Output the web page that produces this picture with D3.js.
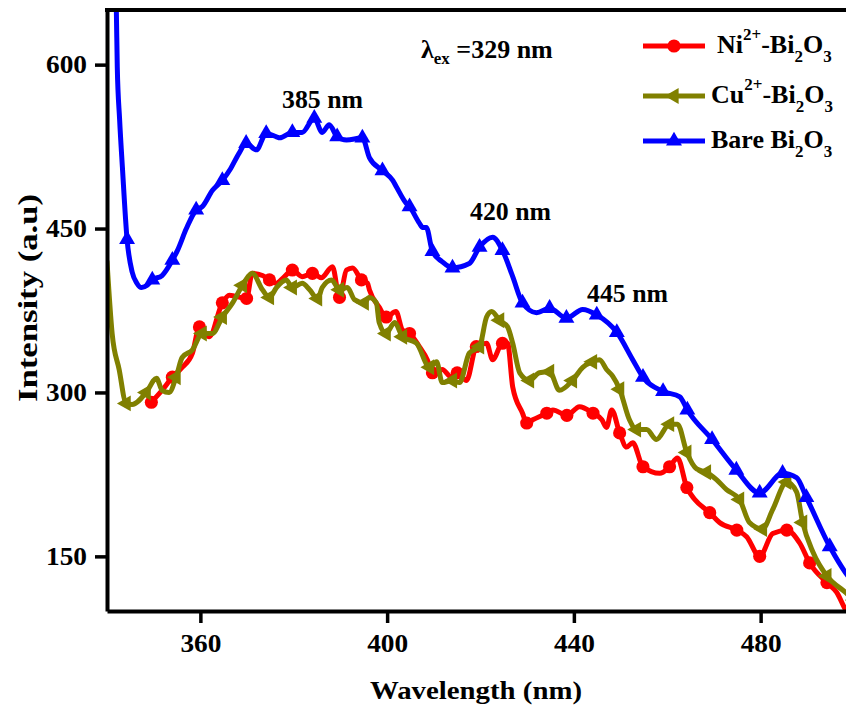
<!DOCTYPE html>
<html>
<head>
<meta charset="utf-8">
<script src="https://cdn.jsdelivr.net/npm/d3@7/dist/d3.min.js"></script>
<style>
  html, body { margin: 0; padding: 0; background: #fff; }
  svg { display: block; }
  text { font-family: "Liberation Serif", "Times New Roman", Times, serif; font-weight: bold; fill: #000; }
</style>
</head>
<body>
<svg id="chart" width="846" height="707"></svg>
<script>
// ---------------- DATA ----------------
const xTicks = [360, 400, 440, 480];
const yTicks = [150, 300, 450, 600];

// Ni2+-Bi2O3 (red, circles)
const niX = [349.5, 351.8, 354.0, 355.9, 358.3, 359.8, 361.9, 364.7, 366.2, 369.9, 371.1, 373.3, 374.8, 376.3, 378.0, 379.7, 381.8, 384.0, 385.9, 388.3, 389.8, 391.3, 392.6, 394.5, 395.8, 396.2, 398.3, 399.8, 401.9, 403.3, 404.8, 406.9, 408.6, 409.7, 411.8, 413.8, 415.0, 417.0, 419.1, 421.3, 422.6, 424.7, 425.8, 426.9, 429.0, 429.9, 431.2, 434.2, 435.5, 438.5, 441.2, 444.1, 446.0, 447.0, 448.1, 449.8, 451.3, 452.6, 454.8, 458.4, 460.5, 462.2, 464.2, 465.9, 469.1, 471.2, 474.9, 477.0, 479.8, 482.6, 485.6, 488.4, 490.5, 494.2, 496.3, 498.2, 500.0];
const niY = [291, 302, 314, 322, 336, 360, 351, 382, 389, 386, 409, 407, 403, 400, 406, 412, 406, 409, 405, 415, 387, 412, 414, 403, 400, 394, 378, 369, 374, 357, 354, 342, 330, 318, 321, 314, 318, 311, 342, 345, 330, 345, 345, 305, 281, 272, 275, 281, 284, 279, 287, 281, 275, 268, 284, 263, 250, 254, 232, 226, 232, 240, 213, 202, 190, 181, 174, 168, 150, 171, 174, 162, 144, 126, 117, 101, 90];

// Cu2+-Bi2O3 (olive, left triangles)
const cuX = [340.0, 341.1, 342.6, 344.1, 345.4, 348.4, 350.6, 351.8, 353.3, 354.8, 356.1, 358.3, 360.4, 362.6, 364.7, 366.9, 369.0, 371.1, 373.3, 374.8, 376.3, 378.4, 379.7, 381.8, 383.4, 385.1, 386.1, 388.1, 389.8, 391.5, 393.0, 395.1, 396.2, 397.7, 398.3, 399.8, 401.6, 403.3, 406.3, 409.1, 410.6, 411.8, 414.0, 415.5, 417.6, 419.8, 421.3, 422.4, 424.1, 425.8, 426.9, 428.4, 430.5, 432.6, 434.8, 436.9, 439.7, 441.9, 444.0, 445.5, 447.0, 448.3, 449.8, 451.9, 453.4, 455.6, 457.7, 460.5, 462.2, 464.2, 466.3, 468.4, 470.6, 472.7, 475.5, 477.6, 480.4, 482.6, 485.6, 487.7, 489.0, 491.2, 494.2, 498.2, 500.0];
const cuY = [420, 354, 321, 290, 289, 300, 313, 302, 300, 314, 332, 339, 354, 354, 369, 382, 398, 409, 394, 387, 396, 403, 396, 400, 394, 386, 396, 403, 394, 396, 385, 382, 387, 382, 364, 354, 364, 351, 345, 323, 328, 309, 311, 309, 336, 342, 369, 374, 366, 360, 345, 318, 311, 318, 319, 302, 311, 323, 328, 330, 321, 315, 303, 275, 266, 266, 257, 271, 271, 245, 230, 227, 220, 211, 202, 181, 175, 193, 218, 209, 181, 154, 132, 117, 110];

// Bare Bi2O3 (blue, up triangles)
const bareX = [341.8, 342.0, 342.2, 342.7, 343.3, 344.3, 345.4, 346.4, 347.4, 348.6, 349.7, 351.8, 354.0, 355.1, 357.0, 359.1, 360.4, 362.6, 364.7, 366.5, 368.3, 369.8, 372.0, 374.1, 376.3, 377.0, 379.7, 381.8, 384.4, 386.1, 387.6, 389.3, 391.3, 394.7, 396.2, 399.0, 401.2, 402.0, 404.1, 404.8, 406.9, 407.6, 408.4, 409.7, 411.7, 414.0, 417.6, 419.8, 422.6, 424.7, 426.9, 429.0, 432.0, 434.8, 438.4, 441.9, 444.9, 449.2, 452.6, 454.8, 459.1, 462.7, 464.3, 469.6, 474.8, 479.8, 484.7, 487.7, 489.8, 494.8, 498.2, 500.0];
const bareY = [680, 650, 598, 550, 506, 440, 410, 400, 396, 398, 403, 407, 421, 430, 450, 467, 470, 485, 494, 505, 519, 528, 522, 537, 534, 533, 538, 538, 551, 538, 545, 534, 531, 533, 515, 503, 494, 488, 473, 470, 455, 451, 451, 429, 420, 414, 418, 433, 442, 430, 406, 382, 373, 377, 368, 376, 371, 355, 330, 314, 301, 296, 284, 257, 229, 208, 226, 222, 204, 159, 135, 125];

const seriesNames = ["Ni2+-Bi2O3", "Cu2+-Bi2O3", "Bare Bi2O3"];
const seriesColors = ["#ff0000", "#808000", "#0000ff"];
const peakLabels = ["385 nm", "420 nm", "445 nm"];
const markerStart = 344.5, markerStep = 5;

// ---------------- CHART ----------------
const svg = d3.select("#chart");
const pLeft = 107, pRight = 854, pTop = 10, pBottom = 611;
const x = d3.scaleLinear().domain([340, 500]).range([pLeft, pRight]);
const y = d3.scaleLinear().domain([100, 650]).range([pBottom, pTop]);

svg.append("defs").append("clipPath").attr("id", "plotclip")
  .append("rect").attr("x", pLeft).attr("y", pTop).attr("width", pRight - pLeft).attr("height", pBottom - pTop);

const series = [
  { xs: niX, ys: niY, color: seriesColors[0], sym: "circle" },
  { xs: cuX, ys: cuY, color: seriesColors[1], sym: "left" },
  { xs: bareX, ys: bareY, color: seriesColors[2], sym: "up" }
];

const line = d3.line().x(d => x(d[0])).y(d => y(d[1])).curve(d3.curveMonotoneX);

function symbolPath(kind) {
  if (kind === "circle") return d3.symbol(d3.symbolCircle, 135)();
  return d3.symbol(d3.symbolTriangle, 110)();
}
function symbolTransform(kind, px, py) {
  if (kind === "left") return `translate(${px},${py}) rotate(-90)`;
  return `translate(${px},${py})`;
}

const plot = svg.append("g").attr("clip-path", "url(#plotclip)");
series.forEach(s => {
  const pts = s.xs.map((v, i) => [v, s.ys[i]]);
  plot.append("path").datum(pts)
    .attr("d", line).attr("fill", "none").attr("stroke", s.color)
    .attr("stroke-width", 5).attr("stroke-linejoin", "round").attr("stroke-linecap", "round");
  // markers: pick nearest data point to each marker wavelength
  const picks = [];
  for (let w = markerStart; w <= 500; w += markerStep) {
    if (w < s.xs[0] - 0.6) continue;
    let bi = 0, bd = Infinity;
    s.xs.forEach((v, i) => { const d = Math.abs(v - w); if (d < bd) { bd = d; bi = i; } });
    if (bd < 2 && !picks.includes(bi)) picks.push(bi);
  }
  plot.selectAll(null).data(picks).enter().append("path")
    .attr("d", symbolPath(s.sym))
    .attr("transform", i => symbolTransform(s.sym, x(s.xs[i]), y(s.ys[i])))
    .attr("fill", s.color);
});

// Axes
const xAxis = d3.axisBottom(x).tickValues(xTicks).tickSize(12).tickSizeOuter(0).tickPadding(11);
const yAxis = d3.axisLeft(y).tickValues(yTicks).tickSize(12).tickSizeOuter(0).tickPadding(8);
const gx = svg.append("g").attr("transform", `translate(0,${pBottom})`).call(xAxis);
const gy = svg.append("g").attr("transform", `translate(${pLeft},0)`).call(yAxis);
[gx, gy].forEach(g => {
  g.attr("font-family", null);
  g.select(".domain").attr("stroke", "#000").attr("stroke-width", 4);
  g.selectAll(".tick line").attr("stroke", "#000").attr("stroke-width", 3.5);
  g.selectAll(".tick text").attr("font-size", 26).attr("fill", "#000")
    .attr("textLength", 41).attr("lengthAdjust", "spacingAndGlyphs");
});
// top frame
svg.append("line").attr("x1", pLeft - 2).attr("x2", 846).attr("y1", pTop).attr("y2", pTop)
  .attr("stroke", "#000").attr("stroke-width", 4);

// Axis titles
svg.append("text").attr("x", 476).attr("y", 699).attr("text-anchor", "middle")
  .attr("font-size", 26).attr("textLength", 212).attr("lengthAdjust", "spacingAndGlyphs").text("Wavelength (nm)");
svg.append("text").attr("transform", "translate(37,298) rotate(-90)").attr("text-anchor", "middle")
  .attr("font-size", 27).attr("textLength", 208).attr("lengthAdjust", "spacingAndGlyphs").text("Intensity (a.u)");

// Peak annotations
const peakPos = [[282, 108], [470, 220], [587, 302]];
peakLabels.forEach((t, i) => {
  svg.append("text").attr("x", peakPos[i][0]).attr("y", peakPos[i][1])
    .attr("font-size", 25).attr("textLength", 81).attr("lengthAdjust", "spacingAndGlyphs").text(t);
});

// Excitation label
const ex = svg.append("text").attr("x", 421).attr("y", 58).attr("font-size", 26);
ex.append("tspan").text("λ");
ex.append("tspan").attr("dy", 6).attr("font-size", 17).text("ex");
ex.append("tspan").attr("dy", -6).text(" =329 nm");

// Legend
function chemParts(name) {
  if (name.startsWith("Ni")) return [["Ni", 0], ["2+", 1], ["-Bi", 0], ["2", -1], ["O", 0], ["3", -1]];
  if (name.startsWith("Cu")) return [["Cu", 0], ["2+", 1], ["-Bi", 0], ["2", -1], ["O", 0], ["3", -1]];
  return [["Bare Bi", 0], ["2", -1], ["O", 0], ["3", -1]];
}
const legY = [46, 96, 141];
const legTextX = [717, 711, 711];
const legTextY = [53, 103, 148];
series.forEach((s, i) => {
  const g = svg.append("g");
  g.append("line").attr("x1", 643).attr("x2", 705).attr("y1", legY[i]).attr("y2", legY[i])
    .attr("stroke", s.color).attr("stroke-width", 5);
  g.append("path").attr("d", symbolPath(s.sym)).attr("transform", symbolTransform(s.sym, 674, legY[i])).attr("fill", s.color);
  const t = g.append("text").attr("x", legTextX[i]).attr("y", legTextY[i]).attr("font-size", 26);
  let cur = 0;
  chemParts(seriesNames[i]).forEach(([str, lvl]) => {
    const target = lvl === 1 ? -13 : (lvl === -1 ? 9 : 0);
    t.append("tspan").attr("dy", target - cur).attr("font-size", lvl === 0 ? 26 : 17).text(str);
    cur = target;
  });
});
</script>
</body>
</html>
